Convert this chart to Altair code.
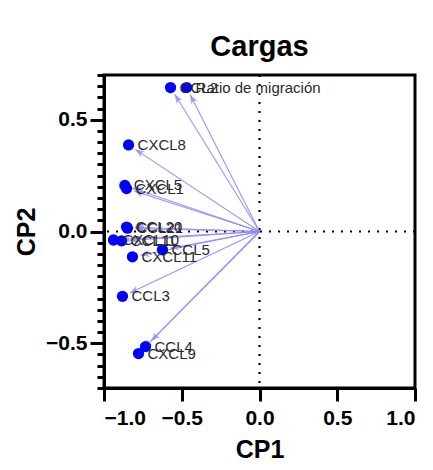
import math
import altair as alt
import pandas as pd

# ---- data ----
labels = ["CCL2", "Ratio de migración", "CXCL8", "CXCL5", "CXCL1", "CCL20", "CCL21",
          "CXCL10", "CCL11", "CCL5", "CXCL11", "CCL3", "CCL4", "CXCL9"]
cp1 = [-0.572, -0.469, -0.842, -0.866, -0.855, -0.855, -0.849,
       -0.939, -0.887, -0.624, -0.817, -0.881, -0.733, -0.778]
cp2 = [0.644, 0.644, 0.387, 0.206, 0.192, 0.020, 0.015,
       -0.038, -0.042, -0.082, -0.113, -0.290, -0.515, -0.546]

x_ticks = [-1.0, -0.5, 0.0, 0.5, 1.0]
y_ticks = [-0.5, 0.0, 0.5]
y_minor = [round(-0.7 + 0.05 * i, 2) for i in range(29)]

W, H = 311, 313
SX = W / 2.0      # px per unit on x
SY = H / 1.4      # px per unit on y

df = pd.DataFrame({"label": labels, "cp1": cp1, "cp2": cp2})
df["x0"] = 0.0
df["y0"] = 0.0
lenpx = ((df["cp1"] * SX) ** 2 + (df["cp2"] * SY) ** 2) ** 0.5
f = (lenpx - 8) / lenpx
df["tx"] = df["cp1"] * f
df["ty"] = df["cp2"] * f
df["ang"] = [(math.degrees(math.atan2(a * SX, b * SY)) + 360) % 360 for a, b in zip(df["cp1"], df["cp2"])]

FONT = "Liberation Sans"
xs = alt.Scale(domain=[-1, 1], nice=False, zero=False)
ys = alt.Scale(domain=[-0.7, 0.7], nice=False, zero=False)

base = alt.Chart(df)

x_axis = alt.Axis(values=x_ticks, format=".1f", tickSize=13, tickWidth=3, domainWidth=3,
                  domainColor="black", tickColor="black", grid=False, labelFontSize=21,
                  labelFontWeight="bold", labelFont=FONT, labelColor="black", labelPadding=6,
                  title="CP1", titleFontSize=25, titleFont=FONT, titleFontWeight="bold",
                  titleColor="black", titlePadding=9, orient="bottom")
y_axis = alt.Axis(values=y_ticks, format=".1f", tickSize=14, tickWidth=3, domainWidth=3,
                  domainColor="black", tickColor="black", grid=False, labelFontSize=21,
                  labelFontWeight="bold", labelFont=FONT, labelColor="black", labelPadding=3,
                  title="CP2", titleFontSize=25, titleFont=FONT, titleFontWeight="bold",
                  titleColor="black", titlePadding=6, orient="left")
y_minor_axis = alt.Axis(values=y_minor, tickSize=7, tickWidth=3, domain=False, labels=False,
                        tickColor="black", grid=False, title=None, orient="left")

zero = pd.DataFrame({"z": [0.0]})
vline = alt.Chart(zero).mark_rule(color="black", strokeWidth=2.2, strokeDash=[2, 7]).encode(
    x=alt.X("z:Q", scale=xs, axis=None))
hline = alt.Chart(zero).mark_rule(color="black", strokeWidth=2.2, strokeDash=[2, 7]).encode(
    y=alt.Y("z:Q", scale=ys, axis=None))

lines = base.mark_rule(color="#8a8aff", strokeWidth=1.1, opacity=0.9).encode(
    x=alt.X("x0:Q", scale=xs, axis=None), y=alt.Y("y0:Q", scale=ys, axis=None),
    x2="tx:Q", y2="ty:Q")

heads = base.mark_point(shape="M0,0L-0.55,1.4L0,1.1L0.55,1.4Z", filled=True, size=160,
                        color="#8a8aff", opacity=0.75).encode(
    x=alt.X("tx:Q", scale=xs, axis=None), y=alt.Y("ty:Q", scale=ys, axis=None),
    angle=alt.Angle("ang:Q", scale=None))

points = base.mark_circle(size=127, color="#0000ff", opacity=1).encode(
    x=alt.X("cp1:Q", scale=xs, axis=x_axis), y=alt.Y("cp2:Q", scale=ys, axis=y_axis))

minor = base.mark_circle(opacity=0).encode(
    x=alt.X("cp1:Q", scale=xs, axis=None), y=alt.Y("cp2:Q", scale=ys, axis=y_minor_axis))

texts = base.mark_text(align="left", baseline="middle", dx=9, fontSize=15, font=FONT,
                       color="#2a2a2a").encode(
    x=alt.X("cp1:Q", scale=xs, axis=None), y=alt.Y("cp2:Q", scale=ys, axis=None),
    text="label:N")

chart = alt.layer(minor, vline, hline, lines, heads, points, texts).resolve_axis(
    x="independent", y="independent"
).properties(
    width=W, height=H,
    title=alt.TitleParams("Cargas", fontSize=29, font=FONT, fontWeight="bold", color="black",
                          anchor="middle", offset=12),
    autosize=alt.AutoSizeParams(type="none"),
    padding={"left": 96, "top": 67, "right": 10, "bottom": 74},
).configure_view(stroke="black", strokeWidth=3)

chart.save("out.html", embed_options={"renderer": "svg", "actions": False})
